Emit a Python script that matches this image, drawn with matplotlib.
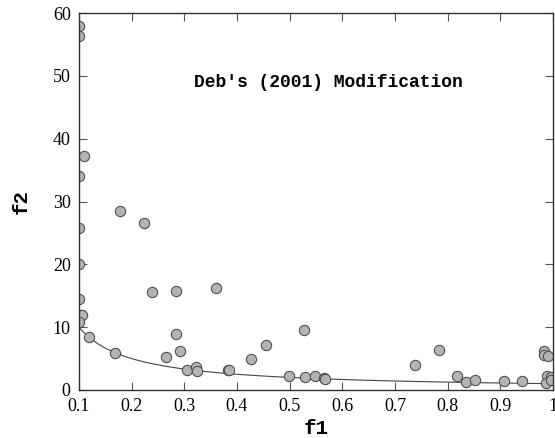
import numpy as np
import matplotlib
matplotlib.use('Agg')
import matplotlib.pyplot as plt

# population points
f1 = [0.100, 0.100, 0.110, 0.100, 0.177, 0.224, 0.100, 0.100, 0.100, 0.100,
      0.106, 0.100, 0.119, 0.169, 0.238, 0.284, 0.360, 0.284, 0.292, 0.265,
      0.306, 0.323, 0.324, 0.382, 0.385, 0.426, 0.456, 0.498, 0.528, 0.529,
      0.548, 0.566, 0.568, 0.738, 0.784, 0.817, 0.834, 0.852, 0.907, 0.942,
      0.983, 0.983, 0.990, 0.989, 0.996, 0.987, 0.996]
f2 = [57.9, 56.4, 37.2, 34.1, 28.5, 26.6, 25.8, 20.0, 14.5, 11.9,
      12.0, 10.8, 8.4, 5.9, 15.6, 15.8, 16.3, 8.9, 6.2, 5.2,
      3.2, 3.7, 3.1, 3.2, 3.2, 5.0, 7.2, 2.2, 9.6, 2.0,
      2.2, 1.9, 1.8, 4.0, 6.4, 2.3, 1.3, 1.6, 1.4, 1.4,
      6.2, 5.5, 5.4, 2.2, 2.0, 1.1, 1.6]

# Pareto-optimal front f2 = 1/f1
front_f1 = np.linspace(0.1, 1.0, 200)
front_f2 = 1.0 / front_f1

fig = plt.figure(figsize=(5.55, 4.38), dpi=100)
ax = fig.add_axes([0.1423, 0.1096, 0.8541, 0.8607])

ax.plot(front_f1, front_f2, color='#444444', lw=0.8, zorder=1)
ax.scatter(f1, f2, s=55, facecolor='#b4b4b4', edgecolor='#505050', lw=0.8, zorder=2)

ax.set_xlim(0.1, 1.0)
ax.set_ylim(0, 60)
ax.set_xticks([0.1, 0.2, 0.3, 0.4, 0.5, 0.6, 0.7, 0.8, 0.9, 1.0])
ax.set_xticklabels(['0.1', '0.2', '0.3', '0.4', '0.5', '0.6', '0.7', '0.8', '0.9', '1'])
ax.set_yticks([0, 10, 20, 30, 40, 50, 60])
ax.tick_params(direction='in', top=True, right=True, length=6, width=0.8,
               color='#555555', labelsize=13, pad=6)
for lab in ax.get_xticklabels() + ax.get_yticklabels():
    lab.set_family('Liberation Serif')
for sp in ax.spines.values():
    sp.set_color('#333333')
    sp.set_linewidth(1.0)

ax.set_xlabel('f1', family='Liberation Mono', fontweight='bold', fontsize=15, labelpad=3)
ax.set_ylabel('f2', family='Liberation Mono', fontweight='bold', fontsize=15, labelpad=16)
ax.text(0.573, 49.0, "Deb's (2001) Modification", family='Liberation Mono',
        fontweight='bold', fontsize=13, ha='center', va='center')

fig.savefig('out.png', dpi=100)
